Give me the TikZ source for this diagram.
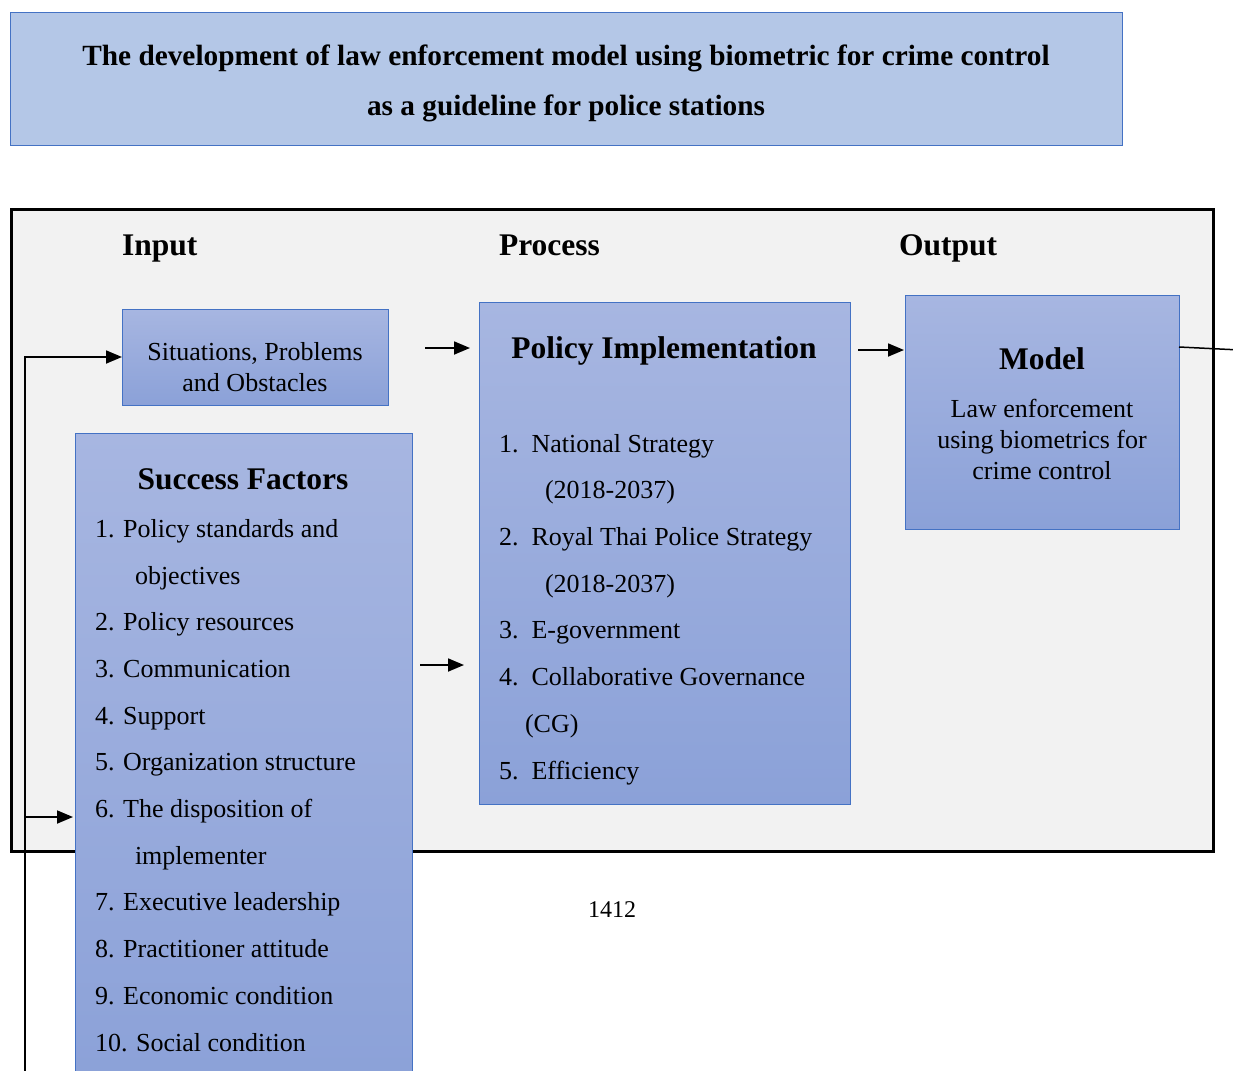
\documentclass[tikz,border=0pt]{standalone}
\usepackage{fontspec}
\setmainfont{Liberation Serif}
\usetikzlibrary{positioning,arrows.meta,calc}
\definecolor{titlecolor}{RGB}{180,199,231}
\definecolor{edgecolor}{RGB}{68,114,196}
\definecolor{topcolor}{RGB}{167,182,225}
\definecolor{botcolor}{RGB}{139,161,216}
\definecolor{panelcolor}{RGB}{242,242,242}

\begin{document}
\begin{tikzpicture}[%
    x=1pt, y=-1pt,                          % Pixel grid, y going down
    every node/.style={inner sep=0pt, outer sep=0pt},
    ]
\tikzset{
  base/.style={draw=edgecolor, line width=1pt, anchor=north west},
  banner/.style={base, fill=titlecolor},
  boxg/.style={base, top color=topcolor, bottom color=botcolor},
  head/.style={anchor=base, font=\fontsize{31.5}{36}\selectfont\bfseries},
  body/.style={anchor=base, align=center, font=\fontsize{26}{31}\selectfont},
  list/.style={anchor=base west, align=left, font=\fontsize{26}{46.7}\selectfont},
  norm/.style={line width=1.8pt, -{Triangle[length=16pt,width=13pt]}},
}
\clip (0,0) rectangle (1233,1070);
\fill [white] (0,0) rectangle (1233,1070);

% title banner (base = last line)
\node [banner, minimum width=1112, minimum height=132] (title) at (10,13) {};
\node [anchor=base, align=center, font=\fontsize{29.3}{50}\selectfont\bfseries] (titleT) at (566,116)
  {The development of law enforcement model using biometric for crime control\\as a guideline for police stations};

% grey panel
\node [draw, line width=3pt, fill=panelcolor, anchor=north west,
       minimum width=1202, minimum height=642] (frame) at (11,209) {};

\node [head, anchor=base west] (input) at (122,255) {Input};
\node [head, anchor=base west] (process) at (499,255) {Process};
\node [head, anchor=base west] (output) at (899,255) {Output};

% boxes
\node [boxg, minimum width=266, minimum height=96] (situ) at (122,309) {};
\node [boxg, minimum width=337, minimum height=660] (factors) at (75,433) {};
\node [boxg, minimum width=371, minimum height=502] (policy) at (479,302) {};
\node [boxg, minimum width=274, minimum height=234] (model) at (905,295) {};

\node [body] (situT) at (255,391) {Situations, Problems\\and Obstacles};

\node [head] (factorsH) at (243,489) {Success Factors};
\node [list] (factorsT) at (95,1051) {1. Policy standards and\\
\hspace*{40pt}objectives\\
2. Policy resources\\
3. Communication\\
4. Support\\
5. Organization structure\\
6. The disposition of\\
\hspace*{40pt}implementer\\
7. Executive leadership\\
8. Practitioner attitude\\
9. Economic condition\\
10. Social condition};

\node [head] (policyH) at (664,358) {Policy Implementation};
\node [list] (policyT) at (499,779) {1.\ \ National Strategy\\
\hspace*{46pt}(2018-2037)\\
2.\ \ Royal Thai Police Strategy\\
\hspace*{46pt}(2018-2037)\\
3.\ \ E-government\\
4.\ \ Collaborative Governance\\
\hspace*{26pt}(CG)\\
5.\ \ Efficiency};

\node [head] (modelH) at (1042,369) {Model};
\node [body] (modelT) at (1042,479) {Law enforcement\\using biometrics for\\crime control};

\node [anchor=base, font=\fontsize{24}{28}\selectfont] (page) at (612,917) {1412};

% connectors
\coordinate (feed) at (25,1080);
\coordinate (tap) at (25,817);
\coordinate (a1) at (425,348);
\coordinate (a2) at (420,665);
\coordinate (a3) at (858,350);
\coordinate (out) at (1240,350);

\draw [norm] (feed) |- (situ.west);
\draw [norm, shorten >=2pt] (tap) -- (tap -| factors.west);
\draw [norm, shorten >=9pt] (a1) -- (a1 -| policy.west);
\draw [norm, shorten >=15pt] (a2) -- (a2 -| policy.west);
\draw [norm, shorten >=1pt] (a3) -- (a3 -| model.west);
\draw [line width=1.5pt] ($(model.north east)+(0,52)$) -- (out);

\end{tikzpicture}
\end{document}
